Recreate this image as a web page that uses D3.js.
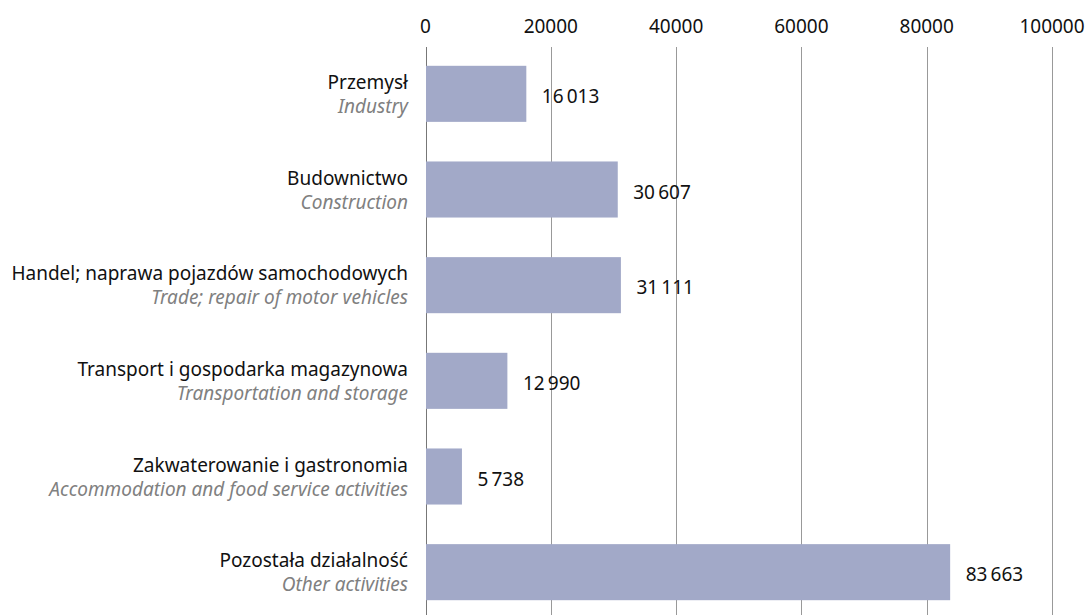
<!DOCTYPE html>
<html>
<head>
<meta charset="utf-8">
<script src="https://cdn.jsdelivr.net/npm/d3@7"></script>
<style>
  body { margin: 0; background: #fff; }
  svg { display: block; font-family: 'Noto Sans', sans-serif; }
</style>
</head>
<body>
<div id="chart"></div>
<script>
const categoriesPl = [
  'Przemysł',
  'Budownictwo',
  'Handel; naprawa pojazdów samochodowych',
  'Transport i gospodarka magazynowa',
  'Zakwaterowanie i gastronomia',
  'Pozostała działalność'
];
const categoriesEn = [
  'Industry',
  'Construction',
  'Trade; repair of motor vehicles',
  'Transportation and storage',
  'Accommodation and food service activities',
  'Other activities'
];
const values = [16013, 30607, 31111, 12990, 5738, 83663];
const tickValues = [0, 20000, 40000, 60000, 80000, 100000];

const width = 1088;
const height = 615;
const fontSize = 19;

const svg = d3
  .select('#chart')
  .append('svg')
  .attr('width', width)
  .attr('height', height);

const x = d3.scaleLinear().domain([0, 100000]).range([425.5, 1052]);
const y = d3
  .scaleBand()
  .domain(d3.range(values.length))
  .range([46, 620])
  .paddingInner(0.414)
  .paddingOuter(0.207);

// vertical grid lines
svg.selectAll('.grid')
  .data(tickValues)
  .enter()
  .append('line')
  .attr('class', 'grid')
  .attr('x1', (d) => Math.round(x(d)) + 0.5)
  .attr('x2', (d) => Math.round(x(d)) + 0.5)
  .attr('y1', 47)
  .attr('y2', height)
  .attr('stroke', (d) => (d === 0 ? '#777' : '#999'))
  .attr('stroke-width', 1);

// tick labels on top
svg.selectAll('.tick-label')
  .data(tickValues)
  .enter()
  .append('text')
  .attr('class', 'tick-label')
  .attr('x', (d) => x(d))
  .attr('y', 33)
  .attr('text-anchor', 'middle')
  .attr('font-size', fontSize)
  .attr('fill', '#111')
  .text((d) => d);

// bars
svg.selectAll('.bar')
  .data(values)
  .enter()
  .append('rect')
  .attr('class', 'bar')
  .attr('x', x(0) + 0.5)
  .attr('y', (d, i) => y(i))
  .attr('width', (d) => x(d) - x(0))
  .attr('height', y.bandwidth())
  .attr('fill', '#a2a9c8');

const fmt = (v) => d3.format(',')(v).replace(/,/g, '\u2009');

// value labels
svg.selectAll('.value-label')
  .data(values)
  .enter()
  .append('text')
  .attr('class', 'value-label')
  .attr('x', (d) => x(d) + 16)
  .attr('y', (d, i) => y(i) + y.bandwidth() / 2 + 9)
  .attr('font-size', fontSize)
  .attr('fill', '#111')
  .text((d) => fmt(d));

// category labels
svg.selectAll('.cat-pl')
  .data(categoriesPl)
  .enter()
  .append('text')
  .attr('class', 'cat-pl')
  .attr('x', 408)
  .attr('y', (d, i) => y(i) + y.bandwidth() / 2 - 5)
  .attr('text-anchor', 'end')
  .attr('font-size', fontSize)
  .attr('fill', '#111')
  .text((d) => d);

svg.selectAll('.cat-en')
  .data(categoriesEn)
  .enter()
  .append('text')
  .attr('class', 'cat-en')
  .attr('x', 408)
  .attr('y', (d, i) => y(i) + y.bandwidth() / 2 + 19)
  .attr('text-anchor', 'end')
  .attr('font-size', fontSize)
  .attr('font-style', 'italic')
  .attr('fill', '#808080')
  .text((d) => d);
</script>
</body>
</html>
